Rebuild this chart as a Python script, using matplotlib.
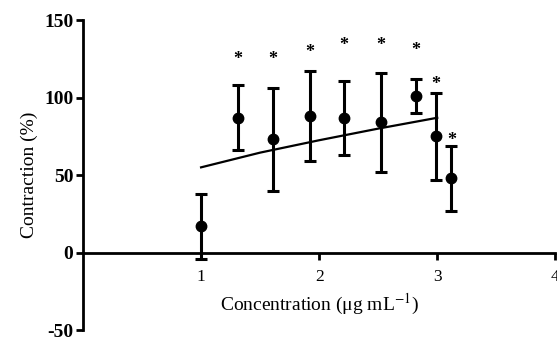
import numpy as np
import matplotlib.pyplot as plt
from matplotlib.transforms import offset_copy

plt.rcParams['font.family'] = 'Liberation Serif'
plt.rcParams['mathtext.fontset'] = 'stix'
plt.rcParams['axes.unicode_minus'] = False

# measured points
conc = [1.0, 1.31, 1.61, 1.92, 2.21, 2.52, 2.82, 2.99, 3.12]
contraction = [17, 87, 73, 88, 87, 84, 101, 75, 48]
err = [21, 21, 33, 29, 24, 32, 11, 28, 21]

# significance marks (x, y)
star_x = [1.31, 1.61, 1.92, 2.21, 2.52, 2.82, 2.99, 3.12]
star_y = [127, 127, 132, 136, 136, 133, 111, 75]

# fitted curve
fit_x = [1.0, 1.5, 2.0, 2.5, 3.0]
fit_y = [55, 64.5, 72.5, 80, 87]

fig = plt.figure(figsize=(5.57, 3.39), dpi=100)
ax = fig.add_axes([0.149, 0.0265, 0.848, 0.914])

ax.plot(fit_x, fit_y, color='black', lw=1.6)
ax.errorbar(conc, contraction, yerr=err, fmt='o', color='black', ms=7.5,
            elinewidth=2.2, capsize=4, capthick=2.2)
star_tr = offset_copy(ax.transData, fig=fig, y=-4, units='dots')
for x, y in zip(star_x, star_y):
    ax.text(x, y, '*', ha='center', va='center', fontsize=13,
            fontweight='bold', transform=star_tr)

ax.set_xlim(0, 4)
ax.set_ylim(-50, 150)
ax.spines['top'].set_visible(False)
ax.spines['right'].set_visible(False)
ax.spines['bottom'].set_position(('data', 0))
ax.spines['left'].set_linewidth(2)
ax.spines['bottom'].set_linewidth(2)

ax.set_xticks([1, 2, 3, 4])
ax.set_yticks([-50, 0, 50, 100, 150])
ax.tick_params(width=2, length=5)
ax.tick_params(axis='x', labelsize=12.5, pad=7)
ax.tick_params(axis='y', labelsize=14, pad=2)
for t in ax.get_yticklabels():
    t.set_fontweight('bold')

ax.set_ylabel('Contraction (%)', fontsize=14, labelpad=4)
ax.text(2.0, -33.5, 'Concentration (μg mL$^{-1}$)', ha='center', va='center', fontsize=14)

fig.savefig('out.png', dpi=100)
